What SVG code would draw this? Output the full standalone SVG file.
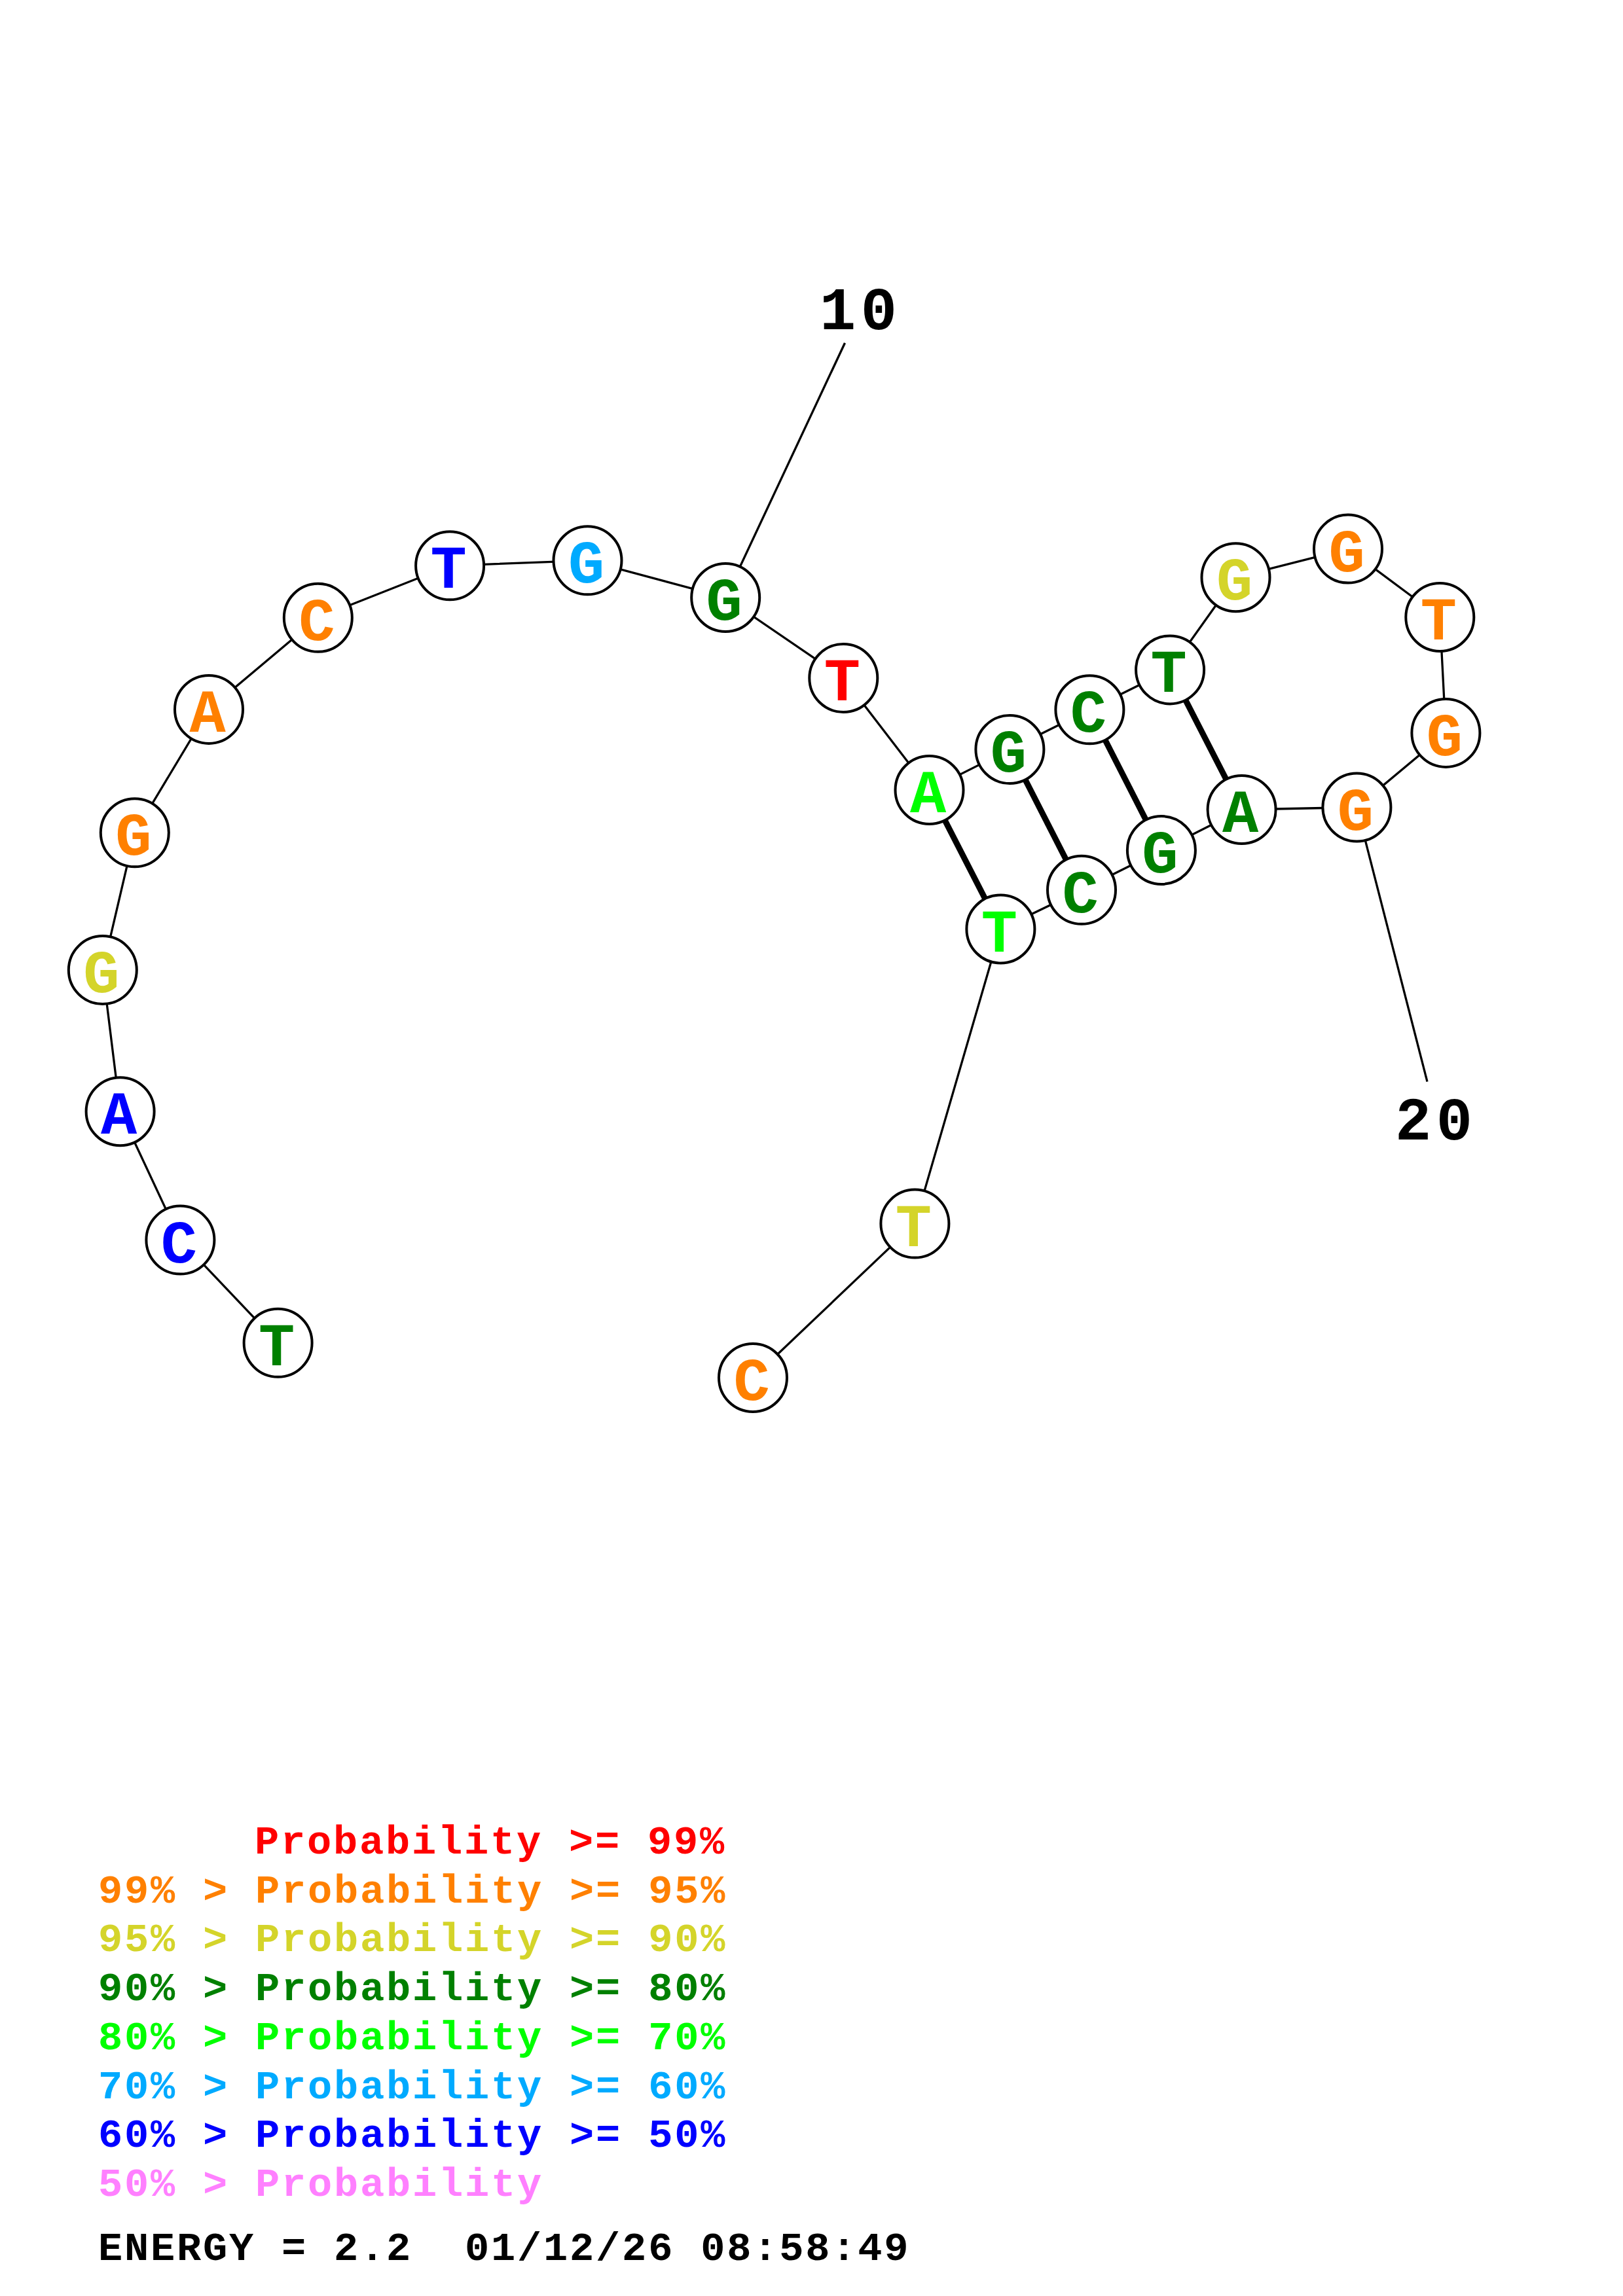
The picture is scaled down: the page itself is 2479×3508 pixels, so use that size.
<svg xmlns="http://www.w3.org/2000/svg" width="2479" height="3508" viewBox="0 0 2479 3508">
<style>
.bb{stroke:#000;stroke-width:3.3;fill:none}
.pr{stroke:#000;stroke-width:9;fill:none}
.nd circle{fill:#fff;stroke:#000;stroke-width:4}
.nd text{font-family:"Courier New","Liberation Mono",monospace;font-weight:bold;font-size:92px;text-anchor:middle}
.lb{font-family:"Courier New","Liberation Mono",monospace;font-weight:bold;font-size:92px;letter-spacing:7.5px;fill:#000}
.lg{font-family:"Courier New","Liberation Mono",monospace;font-weight:bold;font-size:62px;letter-spacing:2.8px}
.r{fill:#ff0000}.o{fill:#ff8000}.y{fill:#d4d42a}.dg{fill:#008000}.bg{fill:#00ff00}.lb2{fill:#00aaff}.b{fill:#0000ff}.p{fill:#ff80ff}.k{fill:#000}
</style>
<rect width="2479" height="3508" fill="#fff"/>
<g id="connectors">
<polyline class="bb" points="424.6,2051.8 275.4,1894.6 183.6,1698.2 156.8,1482.1 205.8,1272.3 319,1083.9 485.8,943.8 687.1,864.3 897.5,856.3 1108.2,913 1288.3,1036 1419.5,1207 1542.4,1145 1664.4,1084.3 1787.1,1023.4 1887.5,882.2 2059,838.6 2199.3,943 2208.4,1119.9 2072.4,1233.5 1896.6,1237 1773.9,1299 1652,1359.8 1528.4,1419.5 1397.4,1869.6 1150,2105"/>
<line class="pr" x1="1419.5" y1="1207" x2="1528.4" y2="1419.5"/>
<line class="pr" x1="1542.4" y1="1145" x2="1652" y2="1359.8"/>
<line class="pr" x1="1664.4" y1="1084.3" x2="1773.9" y2="1299"/>
<line class="pr" x1="1787.1" y1="1023.4" x2="1896.6" y2="1237"/>
<line class="bb" x1="1108.2" y1="913" x2="1290.5" y2="524"/>
<line class="bb" x1="2072.4" y1="1233.5" x2="2180" y2="1652.7"/>
</g>
<g id="n1" class="nd"><circle cx="424.6" cy="2051.8" r="52"/><text x="422.6" y="2085.8" class="dg">T</text></g>
<g id="n2" class="nd"><circle cx="275.4" cy="1894.6" r="52"/><text x="273.4" y="1928.6" class="b">C</text></g>
<g id="n3" class="nd"><circle cx="183.6" cy="1698.2" r="52"/><text x="181.6" y="1732.2" class="b">A</text></g>
<g id="n4" class="nd"><circle cx="156.8" cy="1482.1" r="52"/><text x="154.8" y="1516.1" class="y">G</text></g>
<g id="n5" class="nd"><circle cx="205.8" cy="1272.3" r="52"/><text x="203.8" y="1306.3" class="o">G</text></g>
<g id="n6" class="nd"><circle cx="319" cy="1083.9" r="52"/><text x="317" y="1117.9" class="o">A</text></g>
<g id="n7" class="nd"><circle cx="485.8" cy="943.8" r="52"/><text x="483.8" y="977.8" class="o">C</text></g>
<g id="n8" class="nd"><circle cx="687.1" cy="864.3" r="52"/><text x="685.1" y="898.3" class="b">T</text></g>
<g id="n9" class="nd"><circle cx="897.5" cy="856.3" r="52"/><text x="895.5" y="890.3" class="lb2">G</text></g>
<g id="n10" class="nd"><circle cx="1108.2" cy="913" r="52"/><text x="1106.2" y="947" class="dg">G</text></g>
<g id="n11" class="nd"><circle cx="1288.3" cy="1036" r="52"/><text x="1286.3" y="1070" class="r">T</text></g>
<g id="n12" class="nd"><circle cx="1419.5" cy="1207" r="52"/><text x="1417.5" y="1241" class="bg">A</text></g>
<g id="n13" class="nd"><circle cx="1542.4" cy="1145" r="52"/><text x="1540.4" y="1179" class="dg">G</text></g>
<g id="n14" class="nd"><circle cx="1664.4" cy="1084.3" r="52"/><text x="1662.4" y="1118.3" class="dg">C</text></g>
<g id="n15" class="nd"><circle cx="1787.1" cy="1023.4" r="52"/><text x="1785.1" y="1057.4" class="dg">T</text></g>
<g id="n16" class="nd"><circle cx="1887.5" cy="882.2" r="52"/><text x="1885.5" y="916.2" class="y">G</text></g>
<g id="n17" class="nd"><circle cx="2059" cy="838.6" r="52"/><text x="2057" y="872.6" class="o">G</text></g>
<g id="n18" class="nd"><circle cx="2199.3" cy="943" r="52"/><text x="2197.3" y="977" class="o">T</text></g>
<g id="n19" class="nd"><circle cx="2208.4" cy="1119.9" r="52"/><text x="2206.4" y="1153.9" class="o">G</text></g>
<g id="n20" class="nd"><circle cx="2072.4" cy="1233.5" r="52"/><text x="2070.4" y="1267.5" class="o">G</text></g>
<g id="n21" class="nd"><circle cx="1896.6" cy="1237" r="52"/><text x="1894.6" y="1271" class="dg">A</text></g>
<g id="n22" class="nd"><circle cx="1773.9" cy="1299" r="52"/><text x="1771.9" y="1333" class="dg">G</text></g>
<g id="n23" class="nd"><circle cx="1652" cy="1359.8" r="52"/><text x="1650" y="1393.8" class="dg">C</text></g>
<g id="n24" class="nd"><circle cx="1528.4" cy="1419.5" r="52"/><text x="1526.4" y="1453.5" class="bg">T</text></g>
<g id="n25" class="nd"><circle cx="1397.4" cy="1869.6" r="52"/><text x="1395.4" y="1903.6" class="y">T</text></g>
<g id="n26" class="nd"><circle cx="1150" cy="2105" r="52"/><text x="1148" y="2139" class="o">C</text></g>
<g id="labels">
<text class="lb" x="1252" y="503">10</text>
<text class="lb" x="2131" y="1741">20</text>
</g>
<g id="legend" class="lg">
<text x="389" y="2832" class="r">Probability &gt;= 99%</text>
<text x="150" y="2907" class="o">99% &gt; Probability &gt;= 95%</text>
<text x="150" y="2981" class="y">95% &gt; Probability &gt;= 90%</text>
<text x="150" y="3056" class="dg">90% &gt; Probability &gt;= 80%</text>
<text x="150" y="3131" class="bg">80% &gt; Probability &gt;= 70%</text>
<text x="150" y="3206" class="lb2">70% &gt; Probability &gt;= 60%</text>
<text x="150" y="3280" class="b">60% &gt; Probability &gt;= 50%</text>
<text x="150" y="3355" class="p">50% &gt; Probability</text>
<text x="150" y="3453" class="k" xml:space="preserve">ENERGY = 2.2  01/12/26 08:58:49</text>
</g>
</svg>
